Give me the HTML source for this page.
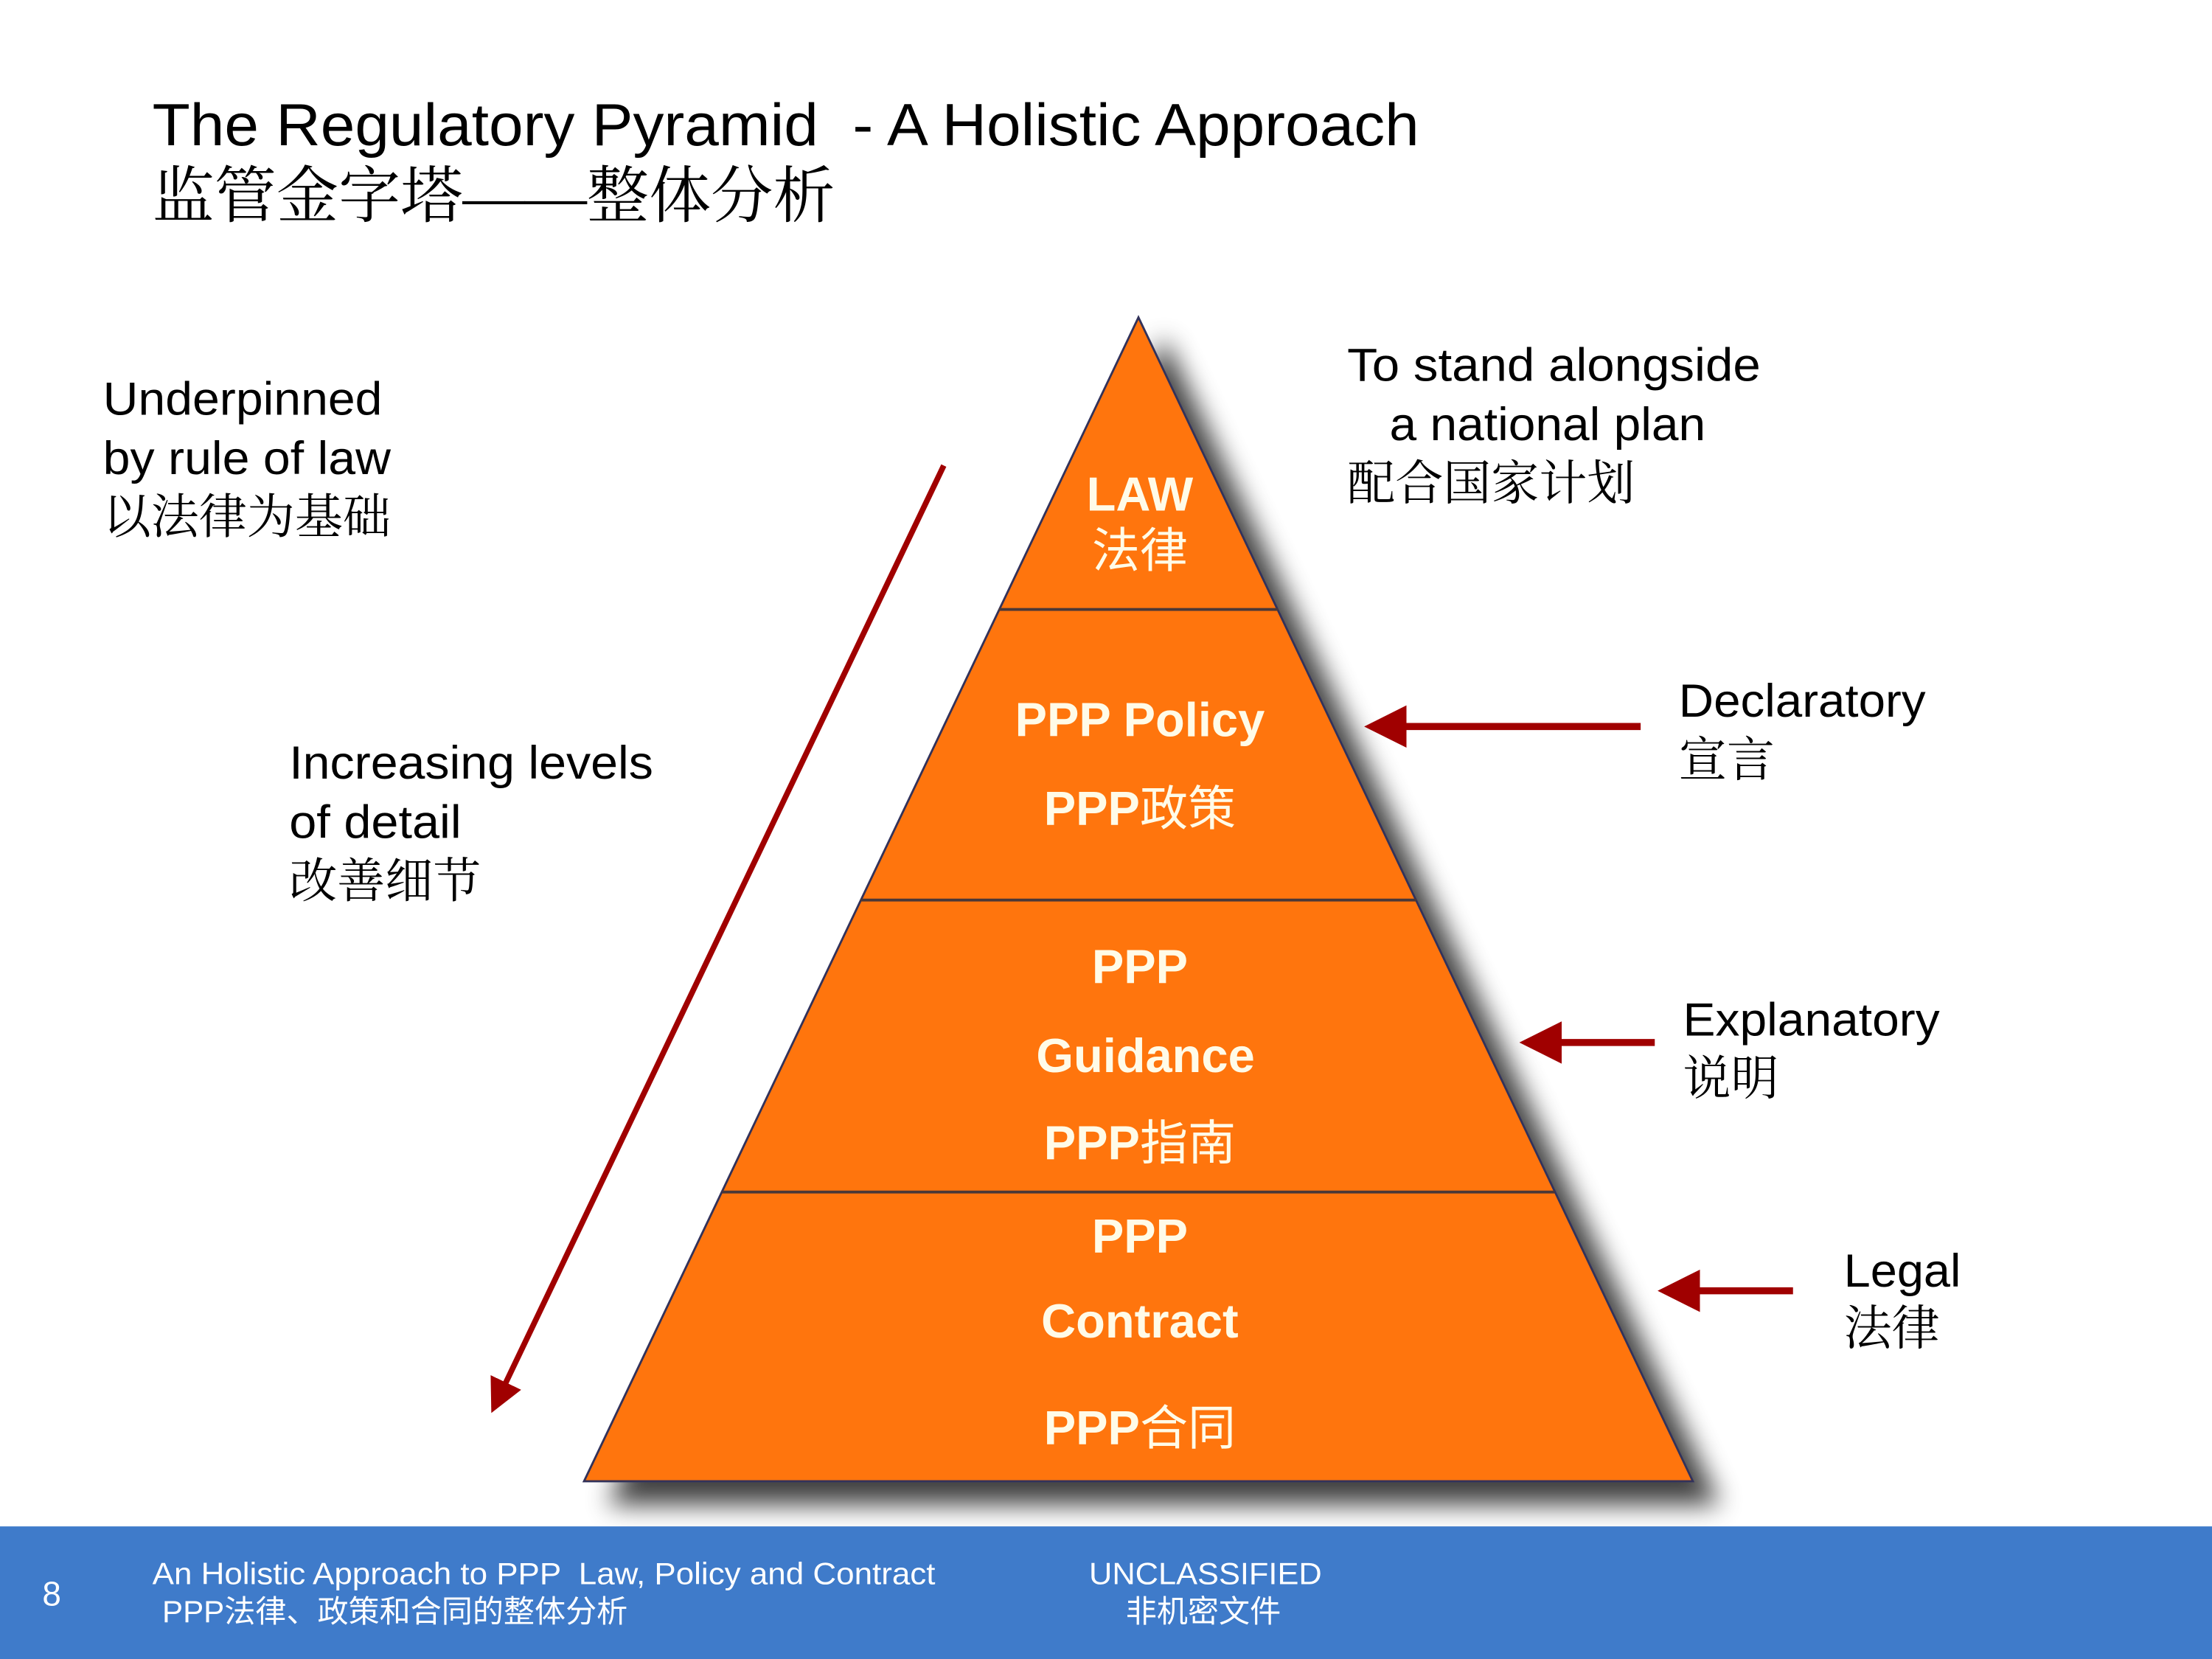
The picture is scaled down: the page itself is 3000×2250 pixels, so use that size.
<!DOCTYPE html>
<html><head><meta charset="utf-8"><style>
html,body{margin:0;padding:0;background:#fff;}
svg{display:block;}
.t{font-family:"Liberation Sans","Noto Sans CJK SC",sans-serif;fill:#000;}
.c{font-family:"Liberation Serif","Noto Serif CJK SC",serif;fill:#000;}
.w{font-family:"Liberation Sans","Noto Sans CJK SC",sans-serif;fill:#fffbe8;font-weight:bold;font-size:34px;}
.n{font-weight:normal;}
.f{font-family:"Liberation Sans","Noto Sans CJK SC",sans-serif;fill:#fff;}
</style></head><body>
<svg width="3000" height="2250" viewBox="0 0 1568 1176" preserveAspectRatio="none">
<defs>
<filter id="sh" x="-20%" y="-20%" width="150%" height="150%">
<feGaussianBlur in="SourceAlpha" stdDeviation="9"/>
<feOffset dx="18" dy="16" result="b"/>
<feComponentTransfer><feFuncA type="linear" slope="0.75"/></feComponentTransfer>
<feMerge><feMergeNode/><feMergeNode in="SourceGraphic"/></feMerge>
</filter>
<marker id="ah" markerWidth="6" markerHeight="6" refX="5" refY="3" orient="auto" markerUnits="strokeWidth">
<path d="M0,0 L6,3 L0,6 z" fill="#a00000"/>
</marker>
</defs>
<rect width="1568" height="1176" fill="#fff"/>
<text class="t" x="108" y="103" font-size="42" textLength="898" lengthAdjust="spacingAndGlyphs">The Regulatory Pyramid &#160;- A Holistic Approach</text>
<text class="c" x="108" y="154" font-size="44">监管金字塔——整体分析</text>

<polygon points="807,225 414,1050 1200,1050" fill="#ff7410" stroke="#33335a" stroke-width="1.5" filter="url(#sh)"/>
<line x1="708" y1="432" x2="906" y2="432" stroke="#4a3838" stroke-width="2"/>
<line x1="610" y1="638" x2="1004" y2="638" stroke="#4a3838" stroke-width="2"/>
<line x1="512" y1="845" x2="1102" y2="845" stroke="#4a3838" stroke-width="2"/>

<g text-anchor="middle">
<text class="w" x="808" y="362">LAW</text>
<text class="w n" x="808" y="402">法律</text>
<text class="w" x="808" y="522">PPP Policy</text>
<text class="w" x="808" y="585">PPP<tspan class="n">政策</tspan></text>
<text class="w" x="808" y="697">PPP</text>
<text class="w" x="812" y="760">Guidance</text>
<text class="w" x="808" y="822">PPP<tspan class="n">指南</tspan></text>
<text class="w" x="808" y="888">PPP</text>
<text class="w" x="808" y="948">Contract</text>
<text class="w" x="808" y="1024">PPP<tspan class="n">合同</tspan></text>
</g>

<line x1="669" y1="330" x2="350" y2="998" stroke="#a00000" stroke-width="4" marker-end="url(#ah)"/>
<line x1="1163" y1="515" x2="972" y2="515" stroke="#a00000" stroke-width="5" marker-end="url(#ah)"/>
<line x1="1173" y1="739" x2="1082" y2="739" stroke="#a00000" stroke-width="5" marker-end="url(#ah)"/>
<line x1="1271" y1="915" x2="1180" y2="915" stroke="#a00000" stroke-width="5" marker-end="url(#ah)"/>

<g font-size="33">
<text class="t" x="73" y="294" textLength="198" lengthAdjust="spacingAndGlyphs">Underpinned</text>
<text class="t" x="73" y="336" textLength="204" lengthAdjust="spacingAndGlyphs">by rule of law</text>
<text class="c" x="73" y="378" font-size="34">以法律为基础</text>
<text class="t" x="205" y="552" textLength="258" lengthAdjust="spacingAndGlyphs">Increasing levels</text>
<text class="t" x="205" y="594" textLength="122" lengthAdjust="spacingAndGlyphs">of detail</text>
<text class="c" x="205" y="636" font-size="34">改善细节</text>
<text class="t" x="955" y="270" textLength="293" lengthAdjust="spacingAndGlyphs">To stand alongside</text>
<text class="t" x="985" y="312" textLength="224" lengthAdjust="spacingAndGlyphs">a national plan</text>
<text class="c" x="955" y="354" font-size="34">配合国家计划</text>
<text class="t" x="1190" y="508" textLength="175" lengthAdjust="spacingAndGlyphs">Declaratory</text>
<text class="c" x="1190" y="550" font-size="34">宣言</text>
<text class="t" x="1193" y="734" textLength="182" lengthAdjust="spacingAndGlyphs">Explanatory</text>
<text class="c" x="1193" y="776" font-size="34">说明</text>
<text class="t" x="1307" y="912" textLength="83" lengthAdjust="spacingAndGlyphs">Legal</text>
<text class="c" x="1307" y="953" font-size="34">法律</text>
</g>

<rect x="0" y="1082" width="1568" height="94" fill="#3f7bca"/>
<text class="f" x="30" y="1138" font-size="24">8</text>
<text class="f" x="108" y="1123" font-size="22" textLength="555" lengthAdjust="spacingAndGlyphs">An Holistic Approach to PPP &#160;Law, Policy and Contract</text>
<text class="f" x="115" y="1150" font-size="22">PPP法律、政策和合同的整体分析</text>
<text class="f" x="772" y="1123" font-size="22" textLength="165" lengthAdjust="spacingAndGlyphs">UNCLASSIFIED</text>
<text class="f" x="798" y="1150" font-size="22">非机密文件</text>
</svg>
</body></html>
